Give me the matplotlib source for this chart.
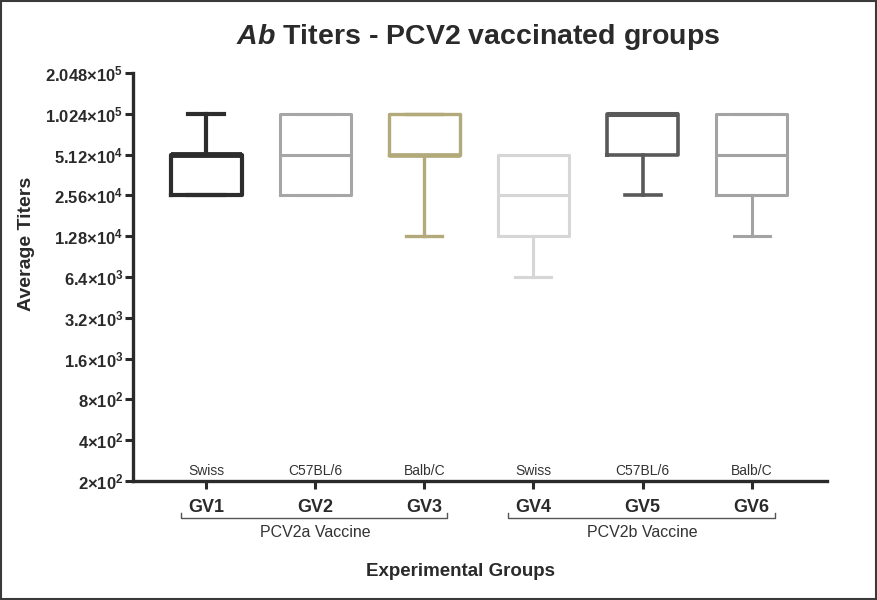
import matplotlib
matplotlib.use("Agg")
import matplotlib.pyplot as plt
import matplotlib.transforms as mtransforms
from matplotlib.patches import Rectangle

plt.rcParams['font.family'] = ['Liberation Sans', 'DejaVu Sans']
plt.rcParams['mathtext.fontset'] = 'custom'
plt.rcParams['mathtext.rm'] = 'Liberation Sans'
plt.rcParams['mathtext.bf'] = 'Liberation Sans:bold'
plt.rcParams['mathtext.it'] = 'Liberation Sans:bold:italic'

# ---- data ----
groups = ["GV1", "GV2", "GV3", "GV4", "GV5", "GV6"]
strains = ["Swiss", "C57BL/6", "Balb/C", "Swiss", "C57BL/6", "Balb/C"]
vaccines = ["PCV2a Vaccine", "PCV2b Vaccine"]
vaccine_groups = [[0, 1, 2], [3, 4, 5]]
whisker_low = [25600, 25600, 12800, 6400, 25600, 12800]
q1 = [25600, 25600, 51200, 12800, 51200, 25600]
median = [51200, 51200, 51200, 25600, 102400, 51200]
q3 = [51200, 102400, 102400, 51200, 102400, 102400]
whisker_high = [102400, 102400, 102400, 51200, 102400, 102400]
colors = ["#2d2d2d", "#a6a6a6", "#b3aa7c", "#d6d6d6", "#595959", "#a3a3a3"]
linewidths = [3.0, 2.2, 2.4, 2.2, 2.6, 2.2]
ytick_values = [200, 400, 800, 1600, 3200, 6400, 12800, 25600, 51200, 102400, 204800]
ytick_mantissa = ["2", "4", "8", "1.6", "3.2", "6.4", "1.28", "2.56", "5.12", "1.024", "2.048"]
ytick_exp = ["2", "2", "2", "3", "3", "3", "4", "4", "4", "5", "5"]

fig = plt.figure(figsize=(8.78, 6.0), dpi=100)
ax = fig.add_axes([133 / 878, 1 - 481 / 600, 694 / 878, 408 / 600])

positions = list(range(len(groups)))
for i in positions:
    st = [dict(whislo=whisker_low[i], q1=q1[i], med=median[i], q3=q3[i],
               whishi=whisker_high[i], fliers=[])]
    c = colors[i]
    lw = linewidths[i]
    ax.bxp(st, positions=[i], widths=0.65, showfliers=False,
           boxprops=dict(color=c, linewidth=lw),
           medianprops=dict(color=c, linewidth=lw * 1.4 if median[i] in (q1[i], q3[i]) else lw),
           whiskerprops=dict(color=c, linewidth=lw),
           capprops=dict(color=c, linewidth=lw),
           capwidths=0.33)

ax.set_yscale('log')
ax.set_ylim(200, 204800)
ax.set_xlim(-0.67, 5.69)
ax.set_yticks(ytick_values)
ax.set_yticklabels([r'$\mathbf{%s{\times}10^{%s}}$' % (m, e)
                    for m, e in zip(ytick_mantissa, ytick_exp)], fontsize=12)
ax.yaxis.set_minor_locator(matplotlib.ticker.NullLocator())
ax.set_xticks(positions)
ax.set_xticklabels(groups, fontsize=13, fontweight='bold')

for s in ['top', 'right']:
    ax.spines[s].set_visible(False)
for s in ['left', 'bottom']:
    ax.spines[s].set_linewidth(2.4)
    ax.spines[s].set_color('#2a2a2a')
ax.tick_params(axis='y', length=6, width=2.2, color='#2a2a2a', pad=1, labelcolor='#2a2a2a')
ax.tick_params(axis='x', length=6, width=2.2, color='#2a2a2a', pad=7, labelcolor='#2a2a2a')

trans = mtransforms.blended_transform_factory(ax.transData, ax.transAxes)
for i, s in enumerate(strains):
    ax.text(i, 0.008, s, transform=trans, ha='center', va='bottom',
            fontsize=10, color='#333333')

for gi, idx in enumerate(vaccine_groups):
    x0 = idx[0] - 0.23
    x1 = idx[-1] + 0.21
    yb = -0.0907
    yt = -0.079
    ax.plot([x0, x0, x1, x1], [yt, yb, yb, yt], transform=trans,
            color='#555555', linewidth=1.0, clip_on=False)
    xc = (idx[0] + idx[-1]) / 2
    ax.text(xc, -0.127, vaccines[gi], transform=trans, ha='center', va='center',
            fontsize=11.5, color='#333333')

fig.text(478 / 878, 1 - 37 / 600, r'$\mathit{Ab}$ Titers - PCV2 vaccinated groups',
         ha='center', va='center', fontsize=20.5, fontweight='bold', color='#2a2a2a')
fig.text(461 / 878, 1 - 572 / 600, 'Experimental Groups', ha='center', va='center',
         fontsize=13.5, fontweight='bold', color='#2a2a2a')
fig.text(27 / 878, 1 - 244 / 600, 'Average Titers', ha='center', va='center',
         rotation=90, fontsize=14, fontweight='bold', color='#2a2a2a')

fig.patches.append(Rectangle((0.001, 0.002), 0.997, 0.996, transform=fig.transFigure,
                             fill=False, edgecolor='#3a3a3a', linewidth=1.5))

fig.savefig('out.png', dpi=100)
